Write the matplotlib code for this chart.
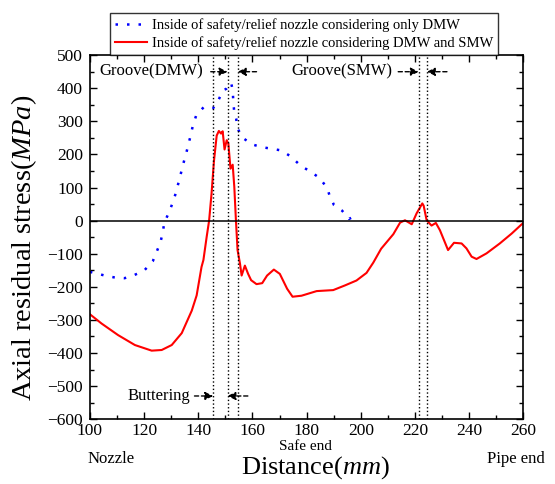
import matplotlib.pyplot as plt
from matplotlib.ticker import MultipleLocator

plt.rcParams['font.family'] = ['Liberation Serif', 'DejaVu Serif']
plt.rcParams['mathtext.fontset'] = 'custom'
plt.rcParams['mathtext.it'] = 'Liberation Serif:italic'
plt.rcParams['mathtext.rm'] = 'Liberation Serif'

# only DMW (blue dotted)
dmw_x = [100, 101.6, 105.5, 109.2, 112.8, 116.5, 119.9, 123.2, 124.7, 126.1, 126.9,
         127.5, 129.1, 130.5, 131.7, 133.5, 134.4, 135.4, 136.3, 137.2, 138.0, 139.2,
         142.0, 145.5, 147.3, 148.2, 148.8, 149.4, 150.3, 151.4, 152.1, 152.7, 152.9,
         153.2, 154.0, 154.4, 156.4, 160.0, 163.5, 167.2, 170.7, 174.3, 177.9, 181.3,
         184.9, 187.6, 188.5, 190.1, 193.1, 195.6, 198.9]
dmw_y = [-155, -158, -166, -172, -174, -164, -152, -123, -93, -64, -34,
         -5, 23, 53, 83, 140, 170, 199, 228, 258, 287, 317,
         343, 340, 362, 377, 390, 395, 398, 410, 417, 395, 365,
         335, 308, 280, 250, 230, 222, 217, 212, 193, 165, 149,
         128, 98, 75, 47, 30, 5, 18]

# DMW and SMW (red solid)
smw_x = [100, 104.3, 110.4, 116.6, 122.8, 126.5, 130.2, 133.9, 137.6, 139.4, 141.2,
         141.9, 143.1, 144.0, 144.9, 145.8, 146.8, 147.6, 148.4, 149.0, 149.7, 150.5,
         151.1, 151.9, 152.7, 153.3, 153.9, 154.5, 155.4, 156.0, 157.2, 158.4, 159.5,
         161.5, 163.6, 165.4, 167.9, 170.1, 172.8, 174.8, 178.1, 183.7, 189.8, 194.1,
         198.4, 202.1, 204.6, 207.5, 212.0, 214.5, 216.3, 218.8, 220.6, 222.7, 223.2,
         224.3, 226.1, 227.7, 229.2, 232.2, 234.4, 237.2, 239.0, 240.9, 242.7, 246.4,
         251.3, 255.7, 259.4, 260]
smw_y = [-283, -311, -346, -376, -393, -391, -376, -340, -272, -226, -140,
         -119, -49, 0, 82, 181, 257, 271, 263, 270, 215, 243,
         233, 157, 169, 102, 1, -89, -130, -166, -136, -161, -180,
         -192, -189, -166, -148, -161, -206, -230, -227, -213, -210, -196,
         -181, -158, -127, -85, -41, -6, 1, -11, 22, 52, 45,
         1, -15, -7, -29, -89, -67, -69, -84, -109, -116, -99,
         -69, -39, -11, -8]

# weld boundaries (mm)
bounds = [145.5, 150.8, 154.6, 221.4, 224.4]

fig = plt.figure(figsize=(5.55, 4.84), dpi=100)
ax = fig.add_axes([0.162, 0.134, 0.781, 0.752])

l1, = ax.plot(dmw_x, dmw_y, color='blue', lw=1.8, dashes=(1, 3.6),
              label='Inside of safety/relief nozzle considering only DMW')
l2, = ax.plot(smw_x, smw_y, color='red', lw=1.5,
              label='Inside of safety/relief nozzle considering DMW and SMW')
ax.axhline(0, color='black', lw=1.1)
for b in bounds:
    ax.axvline(b, color='black', lw=1, ls=':')

ax.set_xlim(100, 260)
ax.set_ylim(-600, 500)
ax.xaxis.set_major_locator(MultipleLocator(20))
ax.xaxis.set_minor_locator(MultipleLocator(10))
ax.yaxis.set_major_locator(MultipleLocator(100))
ax.yaxis.set_minor_locator(MultipleLocator(50))
ax.tick_params(which='both', direction='in', top=True, right=True, labelsize=12.5)
ax.tick_params(axis='x', pad=3)
ax.tick_params(axis='y', pad=5)
ax.tick_params(which='major', length=5, width=1)
ax.tick_params(which='minor', length=3, width=1)
for s in ax.spines.values():
    s.set_linewidth(1.2)

ax.set_ylabel('Axial residual stress($\\mathit{MPa}$)', fontsize=20.5)
ax.yaxis.set_label_coords(-0.118, 0.47)
ax.set_xlabel('Distance($\\mathit{mm}$)', fontsize=19)
ax.xaxis.set_label_coords(0.52, -0.097)

# region arrows
arrow = dict(arrowstyle='-|>', color='black', lw=1, ls=(0, (3, 2)),
             mutation_scale=12, shrinkA=0, shrinkB=0)
ax.text(141.7, 450, 'Groove(DMW)', fontsize=12, ha='right', va='center')
ax.annotate('', xy=(150.8, 450), xytext=(144.6, 450), arrowprops=arrow)
ax.annotate('', xy=(154.6, 450), xytext=(161.5, 450), arrowprops=arrow)

ax.text(211.5, 450, 'Groove(SMW)', fontsize=12, ha='right', va='center')
ax.annotate('', xy=(221.4, 450), xytext=(213.8, 450), arrowprops=arrow)
ax.annotate('', xy=(224.4, 450), xytext=(231.8, 450), arrowprops=arrow)

ax.text(136.9, -530, 'Buttering', fontsize=12, ha='right', va='center')
ax.annotate('', xy=(145.5, -530), xytext=(138.6, -530), arrowprops=arrow)
ax.annotate('', xy=(150.8, -530), xytext=(158.3, -530), arrowprops=arrow)

fig.text(88 / 555, 1 - 459 / 484, 'Nozzle', fontsize=12, ha='left', va='center')
fig.text(305 / 555, 1 - 446 / 484, 'Safe end', fontsize=11, ha='center', va='center')
fig.text(545 / 555, 1 - 459 / 484, 'Pipe end', fontsize=12, ha='right', va='center')

leg = fig.legend(handles=[l1, l2], loc='upper center', bbox_to_anchor=(0.548, 0.988),
                 fontsize=10.5, frameon=True, fancybox=False, edgecolor='black',
                 handlelength=2.2, handletextpad=0.3, borderpad=0.35, labelspacing=0.3)
leg.get_frame().set_linewidth(1)

fig.savefig('out.png', dpi=100)
